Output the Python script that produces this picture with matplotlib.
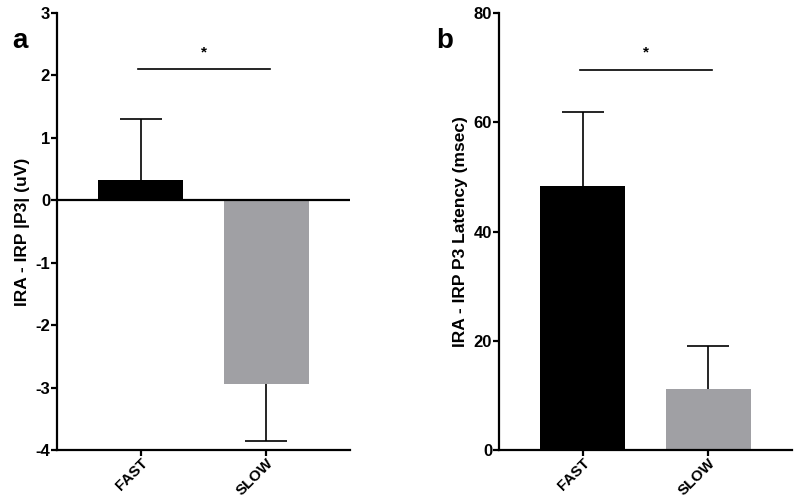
import matplotlib.pyplot as plt

plt.rcParams['font.family'] = ['Liberation Sans', 'DejaVu Sans']
plt.rcParams['font.weight'] = 'bold'
plt.rcParams['axes.unicode_minus'] = False

groups = ['FAST', 'SLOW']
colors = ['#000000', '#a0a0a4']

amp_means = [0.32, -2.94]
amp_err = [0.98, 0.92]

lat_means = [48.3, 11.2]
lat_err = [13.6, 7.8]

fig = plt.figure(figsize=(8, 5), dpi=100)
ax1 = fig.add_axes([0.07125, 0.10, 0.36625, 0.874])
ax2 = fig.add_axes([0.62375, 0.10, 0.36625, 0.874])

x = [0, 1]


def style(ax, ylim, ticks):
    ax.set_xlim(-0.67, 1.67)
    ax.set_ylim(*ylim)
    ax.set_yticks(ticks)
    ax.set_xticks(x)
    ax.set_xticklabels(groups, rotation=45, ha='right', rotation_mode='anchor')
    for s in ['top', 'right']:
        ax.spines[s].set_visible(False)
    for s in ['left', 'bottom']:
        ax.spines[s].set_linewidth(1.6)
    ax.tick_params(axis='both', width=1.6, length=4, labelsize=12, pad=1)
    ax.tick_params(axis='x', labelsize=11, pad=0)
    for lab in ax.get_xticklabels() + ax.get_yticklabels():
        lab.set_fontweight('bold')


def one_sided_err(ax, xs, means, errs):
    # error bar only on the side away from zero
    for xi, m, e in zip(xs, means, errs):
        end = m + e if m >= 0 else m - e
        ax.vlines(xi, m, end, color='black', linewidth=1.2, zorder=1)
        ax.hlines(end, xi - 0.17, xi + 0.17, color='black', linewidth=1.2, zorder=1)


# panel a
ax1.bar(x, amp_means, width=0.68, color=colors, zorder=2)
one_sided_err(ax1, x, amp_means, amp_err)
ax1.axhline(0, color='black', linewidth=1.6, zorder=3)
style(ax1, (-4, 3), range(-4, 4))
ax1.set_ylabel('IRA - IRP |P3| (uV)', fontsize=12.5, fontweight='bold', labelpad=4)
ax1.plot([-0.02, 1.03], [2.1, 2.1], color='black', linewidth=1.2)
ax1.text(0.5, 2.25, '*', ha='center', va='bottom', fontsize=11)
fig.text(0.015, 0.905, 'a', fontsize=20, fontweight='bold')

# panel b
ax2.bar(x, lat_means, width=0.68, color=colors, zorder=2)
one_sided_err(ax2, x, lat_means, lat_err)
style(ax2, (0, 80), range(0, 81, 20))
ax2.set_ylabel('IRA - IRP P3 Latency (msec)', fontsize=12.5, fontweight='bold', labelpad=4)
ax2.plot([-0.02, 1.03], [69.6, 69.6], color='black', linewidth=1.2)
ax2.text(0.5, 71.5, '*', ha='center', va='bottom', fontsize=11)
fig.text(0.545, 0.905, 'b', fontsize=20, fontweight='bold')

fig.savefig('out.png', dpi=100)
